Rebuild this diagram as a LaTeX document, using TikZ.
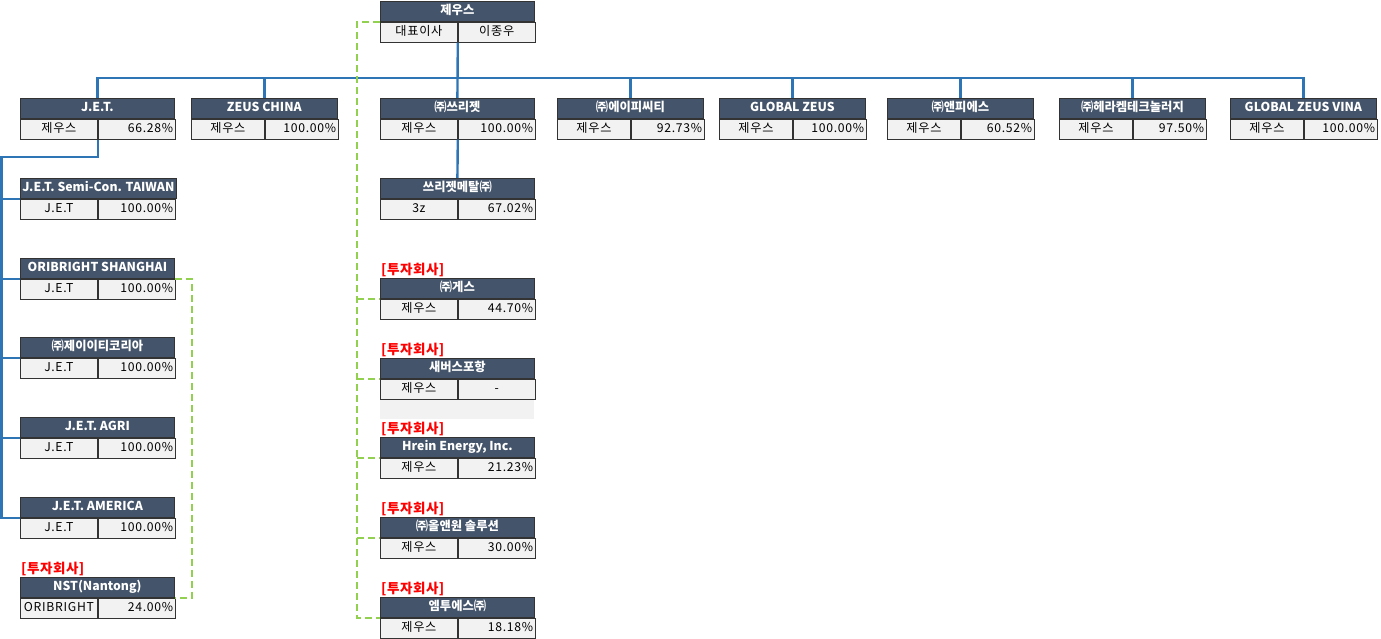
\documentclass[tikz,border=0pt]{standalone}
\usepackage{fontspec}
\setmainfont{Noto Sans CJK KR}
\usepackage{tikz}
\usetikzlibrary{positioning}
\definecolor{hdrblue}{HTML}{44546A}
\definecolor{cellgray}{HTML}{F2F2F2}
\definecolor{linkblue}{HTML}{2E75B6}
\definecolor{investgreen}{HTML}{92D050}

\begin{document}
\begin{tikzpicture}[x=1pt,y=-1pt,
    cell/.style={draw=black!80,line width=0.8pt,inner xsep=2pt,inner ysep=0pt,
      minimum height=20pt,text height=9pt,text depth=2.5pt,anchor=north west,
      font=\fontsize{12.2}{14}\selectfont\addfontfeatures{LetterSpace=6}},
    hdr/.style={cell,fill=hdrblue,text=white,minimum width=#1,
      font=\fontsize{12.3}{14}\selectfont\bfseries},
    own/.style={cell,fill=cellgray,minimum width=#1},
    pct/.style={cell,fill=cellgray,text width=#1,align=right},
    tag/.style={anchor=south west,inner sep=1pt,text=red,
      font=\fontsize{13.5}{15}\selectfont\bfseries\addfontfeatures{LetterSpace=4}},
    link/.style={draw=linkblue,line width=2.4pt},
    invest/.style={draw=investgreen,line width=1.5pt,dash pattern=on 7pt off 4pt}]
  \useasboundingbox (0,0) rectangle (1381,638);

  \node[hdr=154] (zeus) at (380,1) {제우스};
  \node[own=77] (zeus-o) at (zeus.south west) {대표이사};
  \node[own=77] (zeus-p) at (zeus-o.north east) {이종우};

  \node[hdr=154] (jet) at (20,98) {J.E.T.};
  \node[own=77] (jet-o) at (jet.south west) {제우스};
  \node[pct=73pt] (jet-p) at (jet-o.north east) {66.28\%};
  \node[hdr=146] (china) at (191,98) {ZEUS CHINA};
  \node[own=73] (china-o) at (china.south west) {제우스};
  \node[pct=69pt] (china-p) at (china-o.north east) {100.00\%};
  \node[hdr=154] (three) at (380,98) {㈜쓰리젯};
  \node[own=77] (three-o) at (three.south west) {제우스};
  \node[pct=73pt] (three-p) at (three-o.north east) {100.00\%};
  \node[hdr=146] (apct) at (557,98) {㈜에이피씨티};
  \node[own=73] (apct-o) at (apct.south west) {제우스};
  \node[pct=69pt] (apct-p) at (apct-o.north east) {92.73\%};
  \node[hdr=146] (gzeus) at (719,98) {GLOBAL ZEUS};
  \node[own=73] (gzeus-o) at (gzeus.south west) {제우스};
  \node[pct=69pt] (gzeus-p) at (gzeus-o.north east) {100.00\%};
  \node[hdr=146] (nps) at (887,98) {㈜앤피에스};
  \node[own=73] (nps-o) at (nps.south west) {제우스};
  \node[pct=69pt] (nps-p) at (nps-o.north east) {60.52\%};
  \node[hdr=146] (hera) at (1059,98) {㈜헤라켐테크놀러지};
  \node[own=73] (hera-o) at (hera.south west) {제우스};
  \node[pct=69pt] (hera-p) at (hera-o.north east) {97.50\%};
  \node[hdr=146] (vina) at (1230,98) {GLOBAL ZEUS VINA};
  \node[own=73] (vina-o) at (vina.south west) {제우스};
  \node[pct=69pt] (vina-p) at (vina-o.north east) {100.00\%};

  \node[hdr=154] (taiwan) at (20,178) {J.E.T. Semi-Con. TAIWAN};
  \node[own=77] (taiwan-o) at (taiwan.south west) {J.E.T};
  \node[pct=73pt] (taiwan-p) at (taiwan-o.north east) {100.00\%};
  \node[hdr=154] (ori) at (20,258) {ORIBRIGHT SHANGHAI};
  \node[own=77] (ori-o) at (ori.south west) {J.E.T};
  \node[pct=73pt] (ori-p) at (ori-o.north east) {100.00\%};
  \node[hdr=154] (korea) at (20,337) {㈜제이이티코리아};
  \node[own=77] (korea-o) at (korea.south west) {J.E.T};
  \node[pct=73pt] (korea-p) at (korea-o.north east) {100.00\%};
  \node[hdr=154] (agri) at (20,417) {J.E.T. AGRI};
  \node[own=77] (agri-o) at (agri.south west) {J.E.T};
  \node[pct=73pt] (agri-p) at (agri-o.north east) {100.00\%};
  \node[hdr=154] (ame) at (20,497) {J.E.T. AMERICA};
  \node[own=77] (ame-o) at (ame.south west) {J.E.T};
  \node[pct=73pt] (ame-p) at (ame-o.north east) {100.00\%};
  \node[hdr=154] (nst) at (20,577) {NST(Nantong)};
  \node[own=77] (nst-o) at (nst.south west) {ORIBRIGHT};
  \node[pct=73pt] (nst-p) at (nst-o.north east) {24.00\%};
  \node[tag] (nst-t) at (nst.north west) {[투자회사]};

  \node[hdr=154] (metal) at (380,178) {쓰리젯메탈㈜};
  \node[own=77] (metal-o) at (metal.south west) {3z};
  \node[pct=73pt] (metal-p) at (metal-o.north east) {67.02\%};
  \node[hdr=154] (ges) at (380,278) {㈜게스};
  \node[own=77] (ges-o) at (ges.south west) {제우스};
  \node[pct=73pt] (ges-p) at (ges-o.north east) {44.70\%};
  \node[tag] (ges-t) at (ges.north west) {[투자회사]};
  \node[hdr=154] (sae) at (380,358) {새버스포항};
  \node[own=77] (sae-o) at (sae.south west) {제우스};
  \node[own=77] (sae-p) at (sae-o.north east) {-};
  \node[fill=cellgray,minimum width=154,minimum height=19,inner sep=0pt,
    anchor=north west] (sae-x) at (sae-o.south west) {};
  \node[tag] (sae-t) at (sae.north west) {[투자회사]};
  \node[hdr=154] (hrein) at (380,437) {Hrein Energy, Inc.};
  \node[own=77] (hrein-o) at (hrein.south west) {제우스};
  \node[pct=73pt] (hrein-p) at (hrein-o.north east) {21.23\%};
  \node[tag] (hrein-t) at (hrein.north west) {[투자회사]};
  \node[hdr=154] (one) at (380,517) {㈜올앤원 솔루션};
  \node[own=77] (one-o) at (one.south west) {제우스};
  \node[pct=73pt] (one-p) at (one-o.north east) {30.00\%};
  \node[tag] (one-t) at (one.north west) {[투자회사]};
  \node[hdr=154] (m2s) at (380,597) {엠투에스㈜};
  \node[own=77] (m2s-o) at (m2s.south west) {제우스};
  \node[pct=73pt] (m2s-p) at (m2s-o.north east) {18.18\%};
  \node[tag] (m2s-t) at (m2s.north west) {[투자회사]};

  \coordinate (busy) at (0,78);
  \draw[link] (jet.north) |- (vina.north |- busy) -- (vina.north);
  \draw[link] (zeus-o.south east) -- (three.north);
  \draw[link] (china.north) -- (china.north |- busy);
  \draw[link] (apct.north) -- (apct.north |- busy);
  \draw[link] (gzeus.north) -- (gzeus.north |- busy);
  \draw[link] (nps.north) -- (nps.north |- busy);
  \draw[link] (hera.north) -- (hera.north |- busy);
  \draw[link] (three-o.south east) -- (metal.north);

  \coordinate (jv) at (1.5,157);
  \draw[link] (jet-o.south east) |- (jv) |- (ame.south west);
  \draw[link] (jv) |- (taiwan.south west);
  \draw[link] (jv) |- (ori.south west);
  \draw[link] (jv) |- (korea.south west);
  \draw[link] (jv) |- (agri.south west);

  \draw[invest] (ori.south east) -- ++(17,0) |- (nst.south east);
  \draw[invest] (zeus.south west) -- ++(-23,0) coordinate (gv) |- (m2s.south west);
  \draw[invest] (gv |- ges.south west) -- (ges.south west);
  \draw[invest] (gv |- sae.south west) -- (sae.south west);
  \draw[invest] (gv |- hrein.south west) -- (hrein.south west);
  \draw[invest] (gv |- one.south west) -- (one.south west);
\end{tikzpicture}
\end{document}
